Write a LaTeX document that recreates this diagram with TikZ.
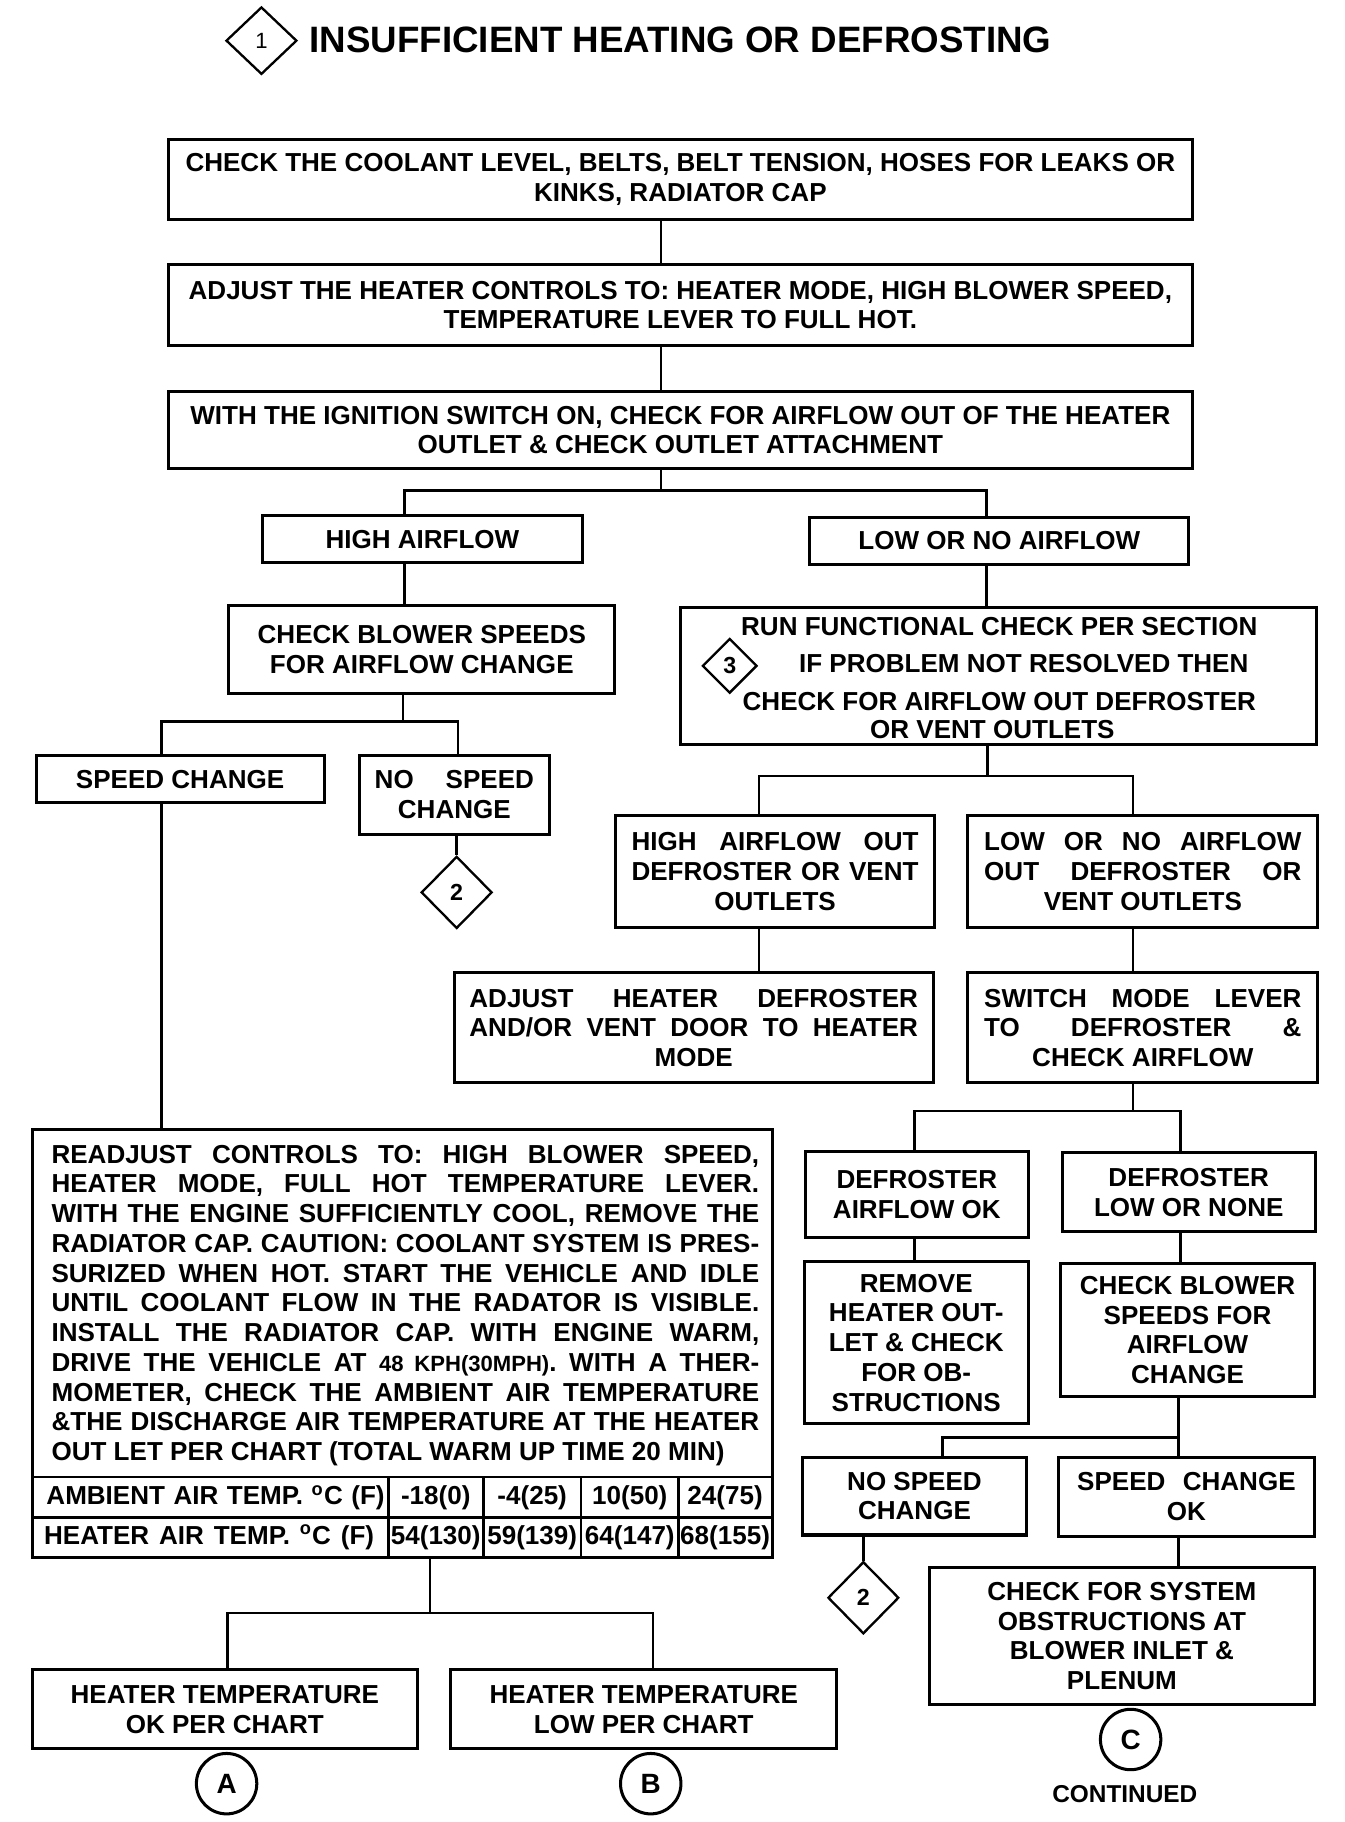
\documentclass[tikz,border=0pt]{standalone}
\usepackage{fontspec}
\setmainfont{Liberation Sans}
\usetikzlibrary{shapes.geometric,fit}
\newcommand{\jline}[2]{\makebox[#1][s]{#2}}
\newcommand{\fs}{\bfseries\fontsize{11.2}{12.8}\selectfont}
\tikzset{
  box/.style={draw, line width=1.3pt, inner sep=0pt},
  conn/.style={line width=1.1pt},
  dmd/.style={diamond, draw, line width=1pt, inner sep=0pt},
  circ/.style={circle, draw, line width=1.3pt, minimum size=26pt, inner sep=0pt, font=\bfseries\fontsize{12}{12}\selectfont},
  txt/.style={inner sep=0pt, font=\fs, align=center},
  tline/.style={line width=1.2pt}
}
\newcommand{\bx}[4]{%
  \node[box, fit={#2 #3}] (#1) {};
  \node[txt] (#1t) at (#1.center) {#4};}
\begin{document}
\begin{tikzpicture}[x=0.5pt,y=-0.5pt]
\path[fill=white, use as bounding box] (0,0) rectangle (1157,1568);

% title
\node[dmd, minimum width=30.5pt, minimum height=29pt, font=\fontsize{9.5}{9.5}\selectfont] (d1) at (225,35) {1};
\node[anchor=west, inner sep=0pt, font=\bfseries\fontsize{15.8}{16}\selectfont] (title) at (266,34) {INSUFFICIENT HEATING OR DEFROSTING};

% top boxes
\bx{b1}{(145,120)}{(1026,189)}{CHECK THE COOLANT LEVEL, BELTS, BELT TENSION, HOSES FOR LEAKS OR\\KINKS, RADIATOR CAP}
\bx{b2}{(145,228)}{(1026,297)}{ADJUST THE HEATER CONTROLS TO: HEATER MODE, HIGH BLOWER SPEED,\\TEMPERATURE LEVER TO FULL HOT.}
\bx{b3}{(145,337)}{(1026,403)}{WITH THE IGNITION SWITCH ON, CHECK FOR AIRFLOW OUT OF THE HEATER\\OUTLET \& CHECK OUTLET ATTACHMENT}

\bx{hi}{(226,444)}{(501,484)}{HIGH AIRFLOW}
\bx{lo}{(697,445)}{(1023,486)}{LOW OR NO AIRFLOW}

\bx{cb}{(197,521)}{(529,597)}{CHECK BLOWER SPEEDS\\FOR AIRFLOW CHANGE}

\node[box, fit={(586,523) (1133,641)}] (rf) {};
\node[txt] (rf1) at (860,539) {RUN FUNCTIONAL CHECK PER SECTION};
\node[txt] (rf2) at (881,571) {IF PROBLEM NOT RESOLVED THEN};
\node[txt] (rf3) at (860,604) {CHECK FOR AIRFLOW OUT DEFROSTER};
\node[txt] (rf4) at (854,628) {OR VENT OUTLETS};
\node[dmd, minimum width=23.5pt, minimum height=23.5pt, font=\bfseries\fontsize{10}{10}\selectfont] (d3) at (628,573) {3};

% left branch
\bx{sc}{(31,650)}{(279,691)}{SPEED CHANGE}
\bx{nsc}{(309,650)}{(473,718)}{\jline{68.5pt}{NO SPEED}\\CHANGE}
\node[dmd, minimum width=30.5pt, minimum height=31pt, font=\bfseries\fontsize{10}{10}\selectfont] (d2a) at (393,768) {2};

% right branch
\bx{hao}{(530,702)}{(804,798)}{\jline{123.5pt}{HIGH AIRFLOW OUT}\\\jline{123.5pt}{DEFROSTER OR VENT}\\OUTLETS}
\bx{lno}{(833,702)}{(1134,798)}{\jline{136.5pt}{LOW OR NO AIRFLOW}\\\jline{136.5pt}{OUT DEFROSTER OR}\\VENT OUTLETS}
\bx{adj}{(391,837)}{(803,932)}{\jline{193pt}{ADJUST HEATER DEFROSTER}\\\jline{193pt}{AND/OR VENT DOOR TO HEATER}\\MODE}
\bx{sw}{(833,837)}{(1134,932)}{\jline{136.5pt}{SWITCH MODE LEVER}\\\jline{136.5pt}{TO DEFROSTER \&}\\CHECK AIRFLOW}

\bx{dao}{(693,991)}{(885,1065)}{DEFROSTER\\AIRFLOW OK}
\bx{dln}{(914,992)}{(1132,1060)}{DEFROSTER\\LOW OR NONE}
\bx{rem}{(692,1086)}{(885,1225)}{REMOVE\\HEATER OUT-\\LET \& CHECK\\FOR OB-\\STRUCTIONS}
\bx{cbs}{(913,1087)}{(1131,1202)}{CHECK BLOWER\\SPEEDS FOR\\AIRFLOW\\CHANGE}
\bx{nsc2}{(691,1254)}{(883,1321)}{NO SPEED\\CHANGE}
\bx{scok}{(911,1254)}{(1131,1322)}{\jline{94pt}{SPEED CHANGE}\\OK}
\node[dmd, minimum width=30.5pt, minimum height=31pt, font=\bfseries\fontsize{10}{10}\selectfont] (d2b) at (743,1375) {2};
\bx{cfs}{(800,1349)}{(1131,1467)}{CHECK FOR SYSTEM\\OBSTRUCTIONS AT\\BLOWER INLET \&\\PLENUM}
\node[circ] (cC) at (973,1497) {C};
\node[inner sep=0pt, font=\bfseries\fontsize{10.5}{11}\selectfont] (cont) at (968,1544) {CONTINUED};

% readjust box with chart
\node[box, fit={(28,972) (665,1340)}] (rd) {};
\node[txt, align=left, anchor=north west] (rdp) at (44,985) {%
\jline{304.5pt}{READJUST CONTROLS TO: HIGH BLOWER SPEED,}\\
\jline{304.5pt}{HEATER MODE, FULL HOT TEMPERATURE LEVER.}\\
\jline{304.5pt}{WITH THE ENGINE SUFFICIENTLY COOL, REMOVE THE}\\
\jline{304.5pt}{RADIATOR CAP. CAUTION: COOLANT SYSTEM IS PRES-}\\
\jline{304.5pt}{SURIZED WHEN HOT. START THE VEHICLE AND IDLE}\\
\jline{304.5pt}{UNTIL COOLANT FLOW IN THE RADATOR IS VISIBLE.}\\
\jline{304.5pt}{INSTALL THE RADIATOR CAP. WITH ENGINE WARM,}\\
\jline{304.5pt}{DRIVE THE VEHICLE AT {\fontsize{9.5}{10}\selectfont 48 KPH(30MPH)}. WITH A THER-}\\
\jline{304.5pt}{MOMETER, CHECK THE AMBIENT AIR TEMPERATURE}\\
\jline{304.5pt}{\&THE DISCHARGE AIR TEMPERATURE AT THE HEATER}\\
OUT LET PER CHART (TOTAL WARM UP TIME 20 MIN)};
\draw[tline] (28,1271) -- (665,1271);
\draw[tline] (28,1306) -- (665,1306);
\foreach \xx in {334,416,500,584} {\draw[tline] (\xx,1271) -- (\xx,1340);}
\node[txt] (t11) at (185.5,1289) {\jline{145.5pt}{AMBIENT AIR TEMP. \textsuperscript{o}C (F)}};
\node[txt] (t21) at (180,1323) {\jline{142pt}{HEATER AIR TEMP. \textsuperscript{o}C (F)}};
\node[txt] (t12) at (375,1289) {-18(0)};
\node[txt] (t13) at (458,1289) {-4(25)};
\node[txt] (t14) at (542,1289) {10(50)};
\node[txt] (t15) at (624,1289) {24(75)};
\node[txt] (t22) at (375,1323) {54(130)};
\node[txt] (t23) at (458,1323) {59(139)};
\node[txt] (t24) at (542,1323) {64(147)};
\node[txt] (t25) at (624,1323) {68(155)};

\bx{hok}{(28,1437)}{(359,1505)}{HEATER TEMPERATURE\\OK PER CHART}
\bx{hlow}{(388,1437)}{(720,1505)}{HEATER TEMPERATURE\\LOW PER CHART}
\node[circ] (cA) at (195,1535) {A};
\node[circ] (cB) at (560,1535) {B};

% junction coordinates
\coordinate (xa) at (569,0);
\coordinate (s1) at (569,422);
\coordinate (s1l) at (348,422);
\coordinate (s1r) at (849,422);
\coordinate (s2) at (347,621);
\coordinate (s2l) at (139,621);
\coordinate (s2r) at (394,621);
\coordinate (s3) at (850,668);
\coordinate (s3l) at (653,668);
\coordinate (s3r) at (975,668);
\coordinate (s4) at (975,956);
\coordinate (s4l) at (787,956);
\coordinate (s4r) at (1016,956);
\coordinate (s5) at (1014,1237);
\coordinate (s5l) at (811,1237);
\coordinate (s6) at (370,1388);
\coordinate (s6l) at (196,1388);
\coordinate (s6r) at (562,1388);

% connectors
\draw[conn] (b1.south -| xa) -- (b2.north -| xa);
\draw[conn] (b2.south -| xa) -- (b3.north -| xa);
\draw[conn] (b3.south -| xa) -- (s1);
\draw[conn] (hi.north -| s1l) -- (s1l) -- (s1r) -- (lo.north -| s1r);
\draw[conn] (hi.south -| s1l) -- (cb.north -| s1l);
\draw[conn] (lo.south -| s1r) -- (rf.north -| s1r);
\draw[conn] (cb.south -| s2) -- (s2);
\draw[conn] (sc.north -| s2l) -- (s2l) -- (s2r) -- (nsc.north -| s2r);
\draw[conn] (sc.south -| s2l) -- (rd.north -| s2l);
\draw[conn] (nsc.south -| d2a) -- (d2a.north);
\draw[conn] (rf.south -| s3) -- (s3);
\draw[conn] (hao.north -| s3l) -- (s3l) -- (s3r) -- (lno.north -| s3r);
\draw[conn] (hao.south -| s3l) -- (adj.north -| s3l);
\draw[conn] (lno.south -| s3r) -- (sw.north -| s3r);
\draw[conn] (sw.south -| s4) -- (s4);
\draw[conn] (dao.north -| s4l) -- (s4l) -- (s4r) -- (dln.north -| s4r);
\draw[conn] (dao.south -| s4l) -- (rem.north -| s4l);
\draw[conn] (dln.south -| s4r) -- (cbs.north -| s4r);
\draw[conn] (cbs.south -| s5) -- (scok.north -| s5);
\draw[conn] (s5) -- (s5l) -- (nsc2.north -| s5l);
\draw[conn] (scok.south -| s5) -- (cfs.north -| s5);
\draw[conn] (nsc2.south -| d2b) -- (d2b.north);
\draw[conn] (rd.south -| s6) -- (s6);
\draw[conn] (hok.north -| s6l) -- (s6l) -- (s6r) -- (hlow.north -| s6r);
\end{tikzpicture}
\end{document}
